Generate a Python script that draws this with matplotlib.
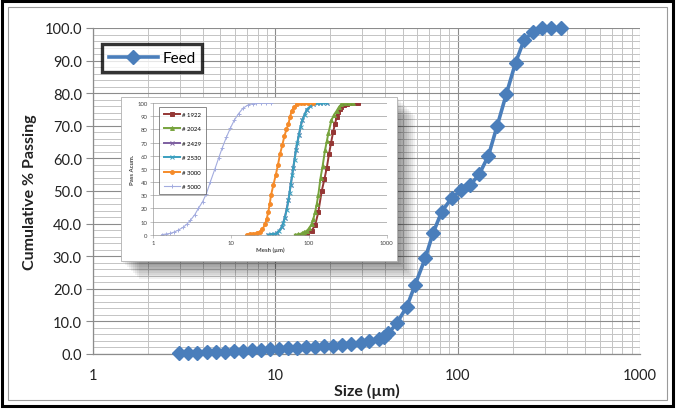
import matplotlib
matplotlib.use("Agg")
import matplotlib.pyplot as plt
from matplotlib.patches import Rectangle
from matplotlib.ticker import FixedLocator, NullFormatter, FixedFormatter

plt.rcParams['font.family'] = ['Lato', 'DejaVu Sans']

# ---- main chart data (Feed) ----
feed_size = [2.96, 3.33, 3.73, 4.21, 4.71, 5.30, 5.93, 6.68, 7.45, 8.38, 9.35,
             10.5, 11.8, 13.2, 14.7, 16.6, 18.5, 20.8, 23.3, 26.1, 29.4, 32.8,
             37.2, 39.5, 41.7, 46.4, 52.6, 58.4, 66.3, 73.3, 81.8, 92.6, 104.4,
             116.9, 131.5, 147.4, 164.5, 185.0, 207.8, 231.3, 260.2, 290.4,
             325.4, 369.2]
feed_pass = [0.2, 0.3, 0.4, 0.5, 0.6, 0.7, 0.85, 1.0, 1.1, 1.25, 1.4,
             1.55, 1.7, 1.85, 2.0, 2.2, 2.4, 2.6, 2.8, 3.1, 3.4, 3.9,
             4.5, 5.2, 6.3, 9.5, 14.5, 21.2, 29.3, 37.1, 43.7, 47.8, 50.2,
             51.7, 55.2, 60.8, 69.9, 79.8, 89.4, 96.3, 98.9, 99.9,
             100.0, 100.0]

y_ticks = [0, 10, 20, 30, 40, 50, 60, 70, 80, 90, 100]
y_tick_labels = ["0.0", "10.0", "20.0", "30.0", "40.0", "50.0", "60.0",
                 "70.0", "80.0", "90.0", "100.0"]
x_ticks = [1, 10, 100, 1000]
x_tick_labels = ["1", "10", "100", "1000"]

# ---- inset data ----
s1922_x = [80.7, 94, 108, 120, 132, 146, 158, 170, 181, 193, 205, 216, 227, 237, 250, 262, 282, 306, 340, 380, 433]
s1922_y = [0, 0.5, 3, 7, 17, 33, 42, 51, 61, 70, 78, 84, 89, 93, 95.5, 97, 98.5, 99.5, 100, 100, 100]
s2024_x = [66, 73, 80.7, 87, 94, 101, 108, 114, 120, 126, 132, 141, 150, 161, 170, 178, 195, 210, 227, 244, 262, 290, 330, 372]
s2024_y = [0, 0.3, 1, 2, 3, 5, 8, 12, 17, 23, 30, 43, 52, 64, 71, 77, 87, 91, 94, 97, 99, 100, 100, 100]
s2429_x = [30, 38.6, 44.6, 49, 54.5, 58.4, 63, 68, 74.5, 82, 94, 114, 140, 169]
s2429_y = [0, 1, 5.5, 13, 26, 38, 51, 64, 76, 87, 95, 99, 100, 100]
s2530_x = [30, 33, 36, 38.6, 41.5, 44.6, 47, 49, 52, 54.5, 56.5, 58.4, 61, 63, 65.5, 68, 71, 74.5, 78, 82, 88, 94, 104, 114, 127, 140, 154, 169]
s2530_y = [0, 0.2, 0.5, 1, 3, 5.5, 9, 13, 19, 26, 32, 38, 45, 51, 57, 64, 70, 76, 82, 87, 91, 95, 97.5, 99, 99.7, 100, 100, 100]
s3000_x = [15.8, 17.5, 19.3, 21.3, 23.4, 25.3, 27.3, 28.7, 30, 31.3, 32.6, 35, 37.4, 40, 42.5, 45.5, 48.5, 51.5, 54.5, 57, 60, 65, 70, 78, 87, 98, 114]
s3000_y = [0, 0.3, 0.6, 1.2, 2, 4, 8, 12, 17, 23, 30, 38, 45, 53, 61, 68, 75, 80, 84, 89, 94, 97, 99, 100, 100, 100, 100]
s5000_x = [1.28, 1.45, 1.65, 1.85, 2.1, 2.4, 2.7, 3.0, 3.4, 3.8, 4.3, 4.8, 5.4, 6.2, 6.9, 7.7, 8.7, 9.8, 11.0, 12.5, 14.2, 16.5, 19.0, 21.0, 24.0, 28.0, 33.0]
s5000_y = [0, 0.5, 1, 2, 3.5, 5.5, 8, 11, 15, 20, 25, 31, 40, 50, 58, 66, 74, 81, 87, 92, 96, 98.5, 99.6, 100, 100, 100, 100]

inset_series = [
    ("# 1922", s1922_x, s1922_y, "#953735", "s"),
    ("# 2024", s2024_x, s2024_y, "#77a33c", "^"),
    ("# 2429", s2429_x, s2429_y, "#7d5fa0", "x"),
    ("# 2530", s2530_x, s2530_y, "#3a9fbf", "x"),
    ("# 3000", s3000_x, s3000_y, "#f58b2a", "o"),
    ("# 5000", s5000_x, s5000_y, "#a3acdf", "+"),
]

W, H = 677, 410
fig = plt.figure(figsize=(W / 100, H / 100), dpi=100)
fig.patch.set_facecolor("white")

def fx(px):
    return px / W

def fy(py):
    return 1 - py / H

# outer borders
fig.patches.append(Rectangle((fx(2), fy(407)), fx(673) - fx(2), fy(2) - fy(407),
                             transform=fig.transFigure, fill=False, ec="black",
                             lw=2.2, zorder=0.5))
fig.patches.append(Rectangle((fx(8), fy(401)), fx(667) - fx(8), fy(8) - fy(401),
                             transform=fig.transFigure, fill=False, ec="#9a9a9a",
                             lw=0.8, zorder=0.5))

# ---- main axes ----
ax = fig.add_axes([fx(93), fy(355), fx(640) - fx(93), fy(29) - fy(355)])
ax.set_zorder(0.6)
ax.set_facecolor("none")
ax.set_xscale("log")
ax.set_xlim(1, 1000)
ax.set_ylim(0, 100)
ax.xaxis.set_major_locator(FixedLocator(x_ticks))
ax.xaxis.set_major_formatter(FixedFormatter(x_tick_labels))
minor_x = [m * d for d in (1, 10, 100) for m in range(2, 10)]
ax.xaxis.set_minor_locator(FixedLocator(minor_x))
ax.xaxis.set_minor_formatter(NullFormatter())
ax.yaxis.set_major_locator(FixedLocator(y_ticks))
ax.yaxis.set_major_formatter(FixedFormatter(y_tick_labels))
ax.yaxis.set_minor_locator(FixedLocator([v for v in range(0, 101, 2) if v % 10]))
ax.grid(which="major", color="#8c8c8c", lw=0.8)
ax.grid(which="minor", color="#c4c4c4", lw=0.7)
for s in ["top", "right"]:
    ax.spines[s].set_visible(False)
for s in ["left", "bottom"]:
    ax.spines[s].set_color("#8c8c8c")
    ax.spines[s].set_linewidth(0.9)
ax.tick_params(which="major", axis="y", length=5, color="#8c8c8c", labelsize=10.5,
               labelcolor="#222222", pad=3)
ax.tick_params(which="major", axis="x", length=0, labelsize=10.5,
               labelcolor="#222222", pad=10)
ax.tick_params(which="minor", length=0)
ax.set_xlabel("Size (\u00b5m)", fontsize=11.5, fontweight="bold", labelpad=1,
              color="#222222")
ax.set_ylabel("Cumulative % Passing", fontsize=11.5, fontweight="bold",
              labelpad=5, color="#222222")

ax.plot(feed_size, feed_pass, color="#4a7ebb", lw=2.6, marker="D",
        markersize=7, label="Feed", zorder=3, clip_on=False)
leg = ax.legend(loc="upper left", bbox_to_anchor=(0.0165, 0.951),
                borderaxespad=0, fontsize=11, frameon=True, fancybox=False,
                handlelength=3.2, handletextpad=0.3, borderpad=0.45)
leg.get_frame().set_edgecolor("black")
leg.get_frame().set_linewidth(2.4)
leg.set_zorder(5)

# ---- inset shadow & box ----
bx0, bx1, by0, by1 = 120.7, 396.7, 97.7, 261.7
for i in range(9):
    off = 2 + i * 2
    fig.patches.append(Rectangle((fx(bx0 + off), fy(by1 + off)),
                                 fx(bx1 - bx0), fy(by0) - fy(by1),
                                 transform=fig.transFigure, fc="black",
                                 ec="none", alpha=0.055, zorder=1))
fig.patches.append(Rectangle((fx(bx0), fy(by1)), fx(bx1 - bx0), fy(by0) - fy(by1),
                             transform=fig.transFigure, fc="white",
                             ec="#b0b0b0", lw=0.6, zorder=1.1))

ins = fig.add_axes([fx(153.3), fy(235.7), fx(386.7) - fx(153.3), fy(104) - fy(235.7)])
ins.set_zorder(2)
ins.set_facecolor("white")
ins.set_xscale("log")
ins.set_xlim(1, 1000)
ins.set_ylim(0, 100)
ins.xaxis.set_major_locator(FixedLocator(x_ticks))
ins.xaxis.set_major_formatter(FixedFormatter(x_tick_labels))
ins.xaxis.set_minor_locator(FixedLocator([]))
ins.yaxis.set_major_locator(FixedLocator(y_ticks))
ins.yaxis.set_major_formatter(FixedFormatter([str(v) for v in y_ticks]))
ins.grid(axis="y", color="#9a9a9a", lw=0.5)
for s in ["top", "right"]:
    ins.spines[s].set_visible(False)
for s in ["left", "bottom"]:
    ins.spines[s].set_color("#9a9a9a")
    ins.spines[s].set_linewidth(0.5)
ins.tick_params(length=2, width=0.4, color="#9a9a9a", labelsize=4.3,
                labelcolor="#444444", pad=2)
ins.set_xlabel("Mesh (\u00b5m)", fontsize=4.3, fontweight="bold", labelpad=1,
               color="#444444")
ins.set_ylabel("Pass Acum.", fontsize=4.3, fontweight="bold", labelpad=2,
               color="#444444")

for name, xs, ys, col, mk in inset_series:
    ms = 2.8 if mk in ("s", "o", "^") else 2.4
    ins.plot(xs, ys, color=col, lw=1.4 if name != "# 5000" else 0.8,
             marker=mk, markersize=ms, markeredgewidth=0.7, label=name)
ileg = ins.legend(loc="upper left", bbox_to_anchor=(0.024, 0.97), borderaxespad=0,
                  fontsize=4.3, frameon=True, fancybox=False, handlelength=2.8,
                  handletextpad=0.3, labelspacing=1.55, borderpad=0.8)
ileg.get_frame().set_edgecolor("#555555")
ileg.get_frame().set_linewidth(0.6)

fig.savefig("out.png", dpi=100, facecolor="white")
